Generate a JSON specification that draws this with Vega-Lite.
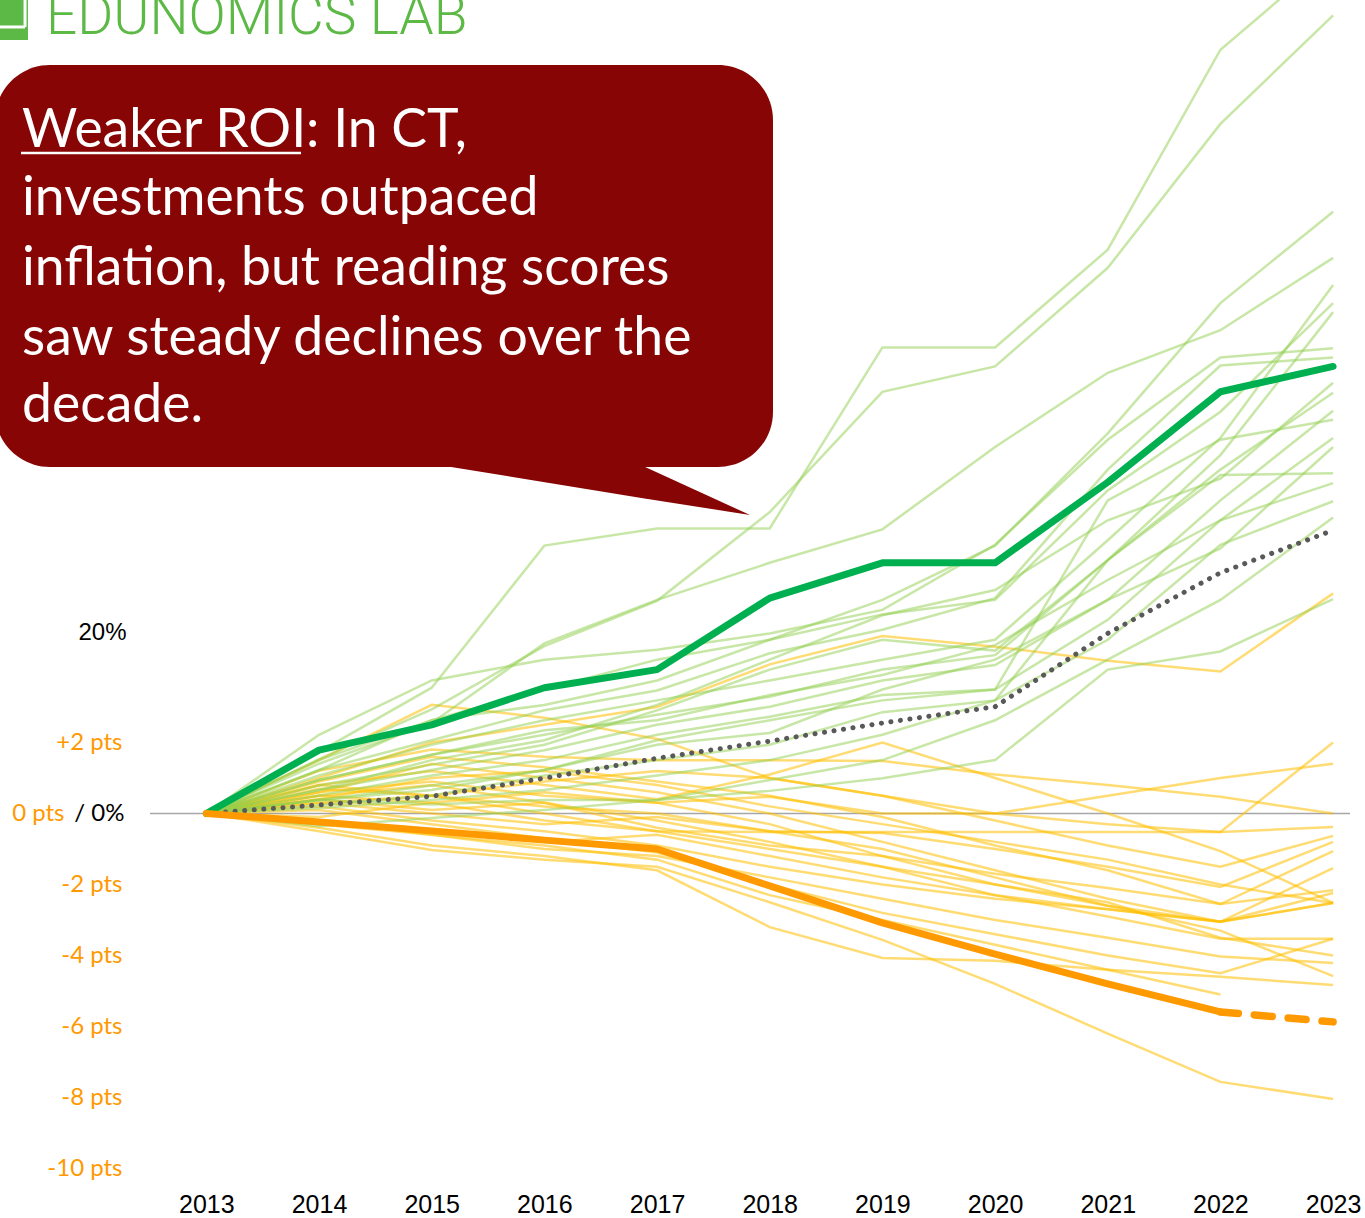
{
"$schema": "https://vega.github.io/schema/vega-lite/v6.json",
"width": 1200, "height": 1185,
"autosize": {"type": "none"},
"padding": {"left": 150, "top": 0, "right": 15, "bottom": 33},
"background": "white",
"config": {"view": {"stroke": null}, "axis": {"grid": false, "domain": false, "ticks": false}},
"datasets": {
"zero": [{"year": 2012.5, "year2": 2023.15, "v": 0}],
"spend": [
{"s":"A","year":2013,"v":0},{"s":"A","year":2014,"v":6.8},{"s":"A","year":2015,"v":13.9},{"s":"A","year":2016,"v":29.6},{"s":"A","year":2017,"v":31.5},{"s":"A","year":2018,"v":31.5},{"s":"A","year":2019,"v":51.5},{"s":"A","year":2020,"v":51.5},{"s":"A","year":2021,"v":62.3},{"s":"A","year":2022,"v":84.4},{"s":"A","year":2023,"v":95},
{"s":"B","year":2013,"v":0},{"s":"B","year":2014,"v":6.0},{"s":"B","year":2015,"v":11.5},{"s":"B","year":2016,"v":18.5},{"s":"B","year":2017,"v":23.5},{"s":"B","year":2018,"v":33.3},{"s":"B","year":2019,"v":46.6},{"s":"B","year":2020,"v":49.4},{"s":"B","year":2021,"v":60.3},{"s":"B","year":2022,"v":76.2},{"s":"B","year":2023,"v":88.2},
{"s":"C","year":2013,"v":0},{"s":"C","year":2014,"v":5.9},{"s":"C","year":2015,"v":10.3},{"s":"C","year":2016,"v":13.7},{"s":"C","year":2017,"v":17.0},{"s":"C","year":2018,"v":19.2},{"s":"C","year":2019,"v":23.6},{"s":"C","year":2020,"v":29.6},{"s":"C","year":2021,"v":42.0},{"s":"C","year":2022,"v":56.4},{"s":"C","year":2023,"v":66.5},
{"s":"D","year":2013,"v":0},{"s":"D","year":2014,"v":5.5},{"s":"D","year":2015,"v":10.0},{"s":"D","year":2016,"v":18.8},{"s":"D","year":2017,"v":23.6},{"s":"D","year":2018,"v":27.7},{"s":"D","year":2019,"v":31.4},{"s":"D","year":2020,"v":40.5},{"s":"D","year":2021,"v":48.7},{"s":"D","year":2022,"v":53.4},{"s":"D","year":2023,"v":61.4},
{"s":"E","year":2013,"v":0},{"s":"E","year":2014,"v":4.2},{"s":"E","year":2015,"v":7.6},{"s":"E","year":2016,"v":10.3},{"s":"E","year":2017,"v":12.5},{"s":"E","year":2018,"v":14.7},{"s":"E","year":2019,"v":17.0},{"s":"E","year":2020,"v":19.2},{"s":"E","year":2021,"v":30.2},{"s":"E","year":2022,"v":41.5},{"s":"E","year":2023,"v":58.4},
{"s":"F","year":2013,"v":0},{"s":"F","year":2014,"v":4.8},{"s":"F","year":2015,"v":10.3},{"s":"F","year":2016,"v":12.0},{"s":"F","year":2017,"v":14.7},{"s":"F","year":2018,"v":19.2},{"s":"F","year":2019,"v":22.0},{"s":"F","year":2020,"v":23.6},{"s":"F","year":2021,"v":35.7},{"s":"F","year":2022,"v":44.4},{"s":"F","year":2023,"v":56.4},
{"s":"G","year":2013,"v":0},{"s":"G","year":2014,"v":3.7},{"s":"G","year":2015,"v":6.5},{"s":"G","year":2016,"v":8.7},{"s":"G","year":2017,"v":10.9},{"s":"G","year":2018,"v":12.9},{"s":"G","year":2019,"v":15.9},{"s":"G","year":2020,"v":17.5},{"s":"G","year":2021,"v":28.0},{"s":"G","year":2022,"v":39.6},{"s":"G","year":2023,"v":55.4},
{"s":"H","year":2013,"v":0},{"s":"H","year":2014,"v":8.7},{"s":"H","year":2015,"v":14.7},{"s":"H","year":2016,"v":17.0},{"s":"H","year":2017,"v":18.1},{"s":"H","year":2018,"v":19.9},{"s":"H","year":2019,"v":22.5},{"s":"H","year":2020,"v":29.7},{"s":"H","year":2021,"v":41.3},{"s":"H","year":2022,"v":50.4},{"s":"H","year":2023,"v":51.4},
{"s":"I","year":2013,"v":0},{"s":"I","year":2014,"v":4.8},{"s":"I","year":2015,"v":8.1},{"s":"I","year":2016,"v":11.4},{"s":"I","year":2017,"v":13.6},{"s":"I","year":2018,"v":17.7},{"s":"I","year":2019,"v":20.3},{"s":"I","year":2020,"v":23.8},{"s":"I","year":2021,"v":38.0},{"s":"I","year":2022,"v":49.5},{"s":"I","year":2023,"v":50.4},
{"s":"J","year":2013,"v":0},{"s":"J","year":2014,"v":2.6},{"s":"J","year":2015,"v":5.9},{"s":"J","year":2016,"v":8.1},{"s":"J","year":2017,"v":12.0},{"s":"J","year":2018,"v":17.0},{"s":"J","year":2019,"v":21.9},{"s":"J","year":2020,"v":24.7},{"s":"J","year":2021,"v":32.4},{"s":"J","year":2022,"v":37.0},{"s":"J","year":2023,"v":47.6},
{"s":"K","year":2013,"v":0},{"s":"K","year":2014,"v":3.1},{"s":"K","year":2015,"v":5.4},{"s":"K","year":2016,"v":7.6},{"s":"K","year":2017,"v":11.4},{"s":"K","year":2018,"v":15.9},{"s":"K","year":2019,"v":19.2},{"s":"K","year":2020,"v":18.0},{"s":"K","year":2021,"v":28.0},{"s":"K","year":2022,"v":38.0},{"s":"K","year":2023,"v":46.5},
{"s":"L","year":2013,"v":0},{"s":"L","year":2014,"v":2.6},{"s":"L","year":2015,"v":4.8},{"s":"L","year":2016,"v":7.0},{"s":"L","year":2017,"v":9.8},{"s":"L","year":2018,"v":11.8},{"s":"L","year":2019,"v":14.7},{"s":"L","year":2020,"v":16.4},{"s":"L","year":2021,"v":23.6},{"s":"L","year":2022,"v":34.6},{"s":"L","year":2023,"v":44.5},
{"s":"M","year":2013,"v":0},{"s":"M","year":2014,"v":2.0},{"s":"M","year":2015,"v":4.2},{"s":"M","year":2016,"v":5.9},{"s":"M","year":2017,"v":8.7},{"s":"M","year":2018,"v":10.7},{"s":"M","year":2019,"v":13.1},{"s":"M","year":2020,"v":13.7},{"s":"M","year":2021,"v":34.6},{"s":"M","year":2022,"v":41.3},{"s":"M","year":2023,"v":43.5},
{"s":"N","year":2013,"v":0},{"s":"N","year":2014,"v":3.7},{"s":"N","year":2015,"v":6.5},{"s":"N","year":2016,"v":9.2},{"s":"N","year":2017,"v":10.3},{"s":"N","year":2018,"v":13.1},{"s":"N","year":2019,"v":15.3},{"s":"N","year":2020,"v":18.6},{"s":"N","year":2021,"v":25.8},{"s":"N","year":2022,"v":32.4},{"s":"N","year":2023,"v":41.5},
{"s":"O","year":2013,"v":0},{"s":"O","year":2014,"v":1.5},{"s":"O","year":2015,"v":2.6},{"s":"O","year":2016,"v":4.8},{"s":"O","year":2017,"v":7.6},{"s":"O","year":2018,"v":8.9},{"s":"O","year":2019,"v":13.7},{"s":"O","year":2020,"v":17.0},{"s":"O","year":2021,"v":23.6},{"s":"O","year":2022,"v":29.3},{"s":"O","year":2023,"v":40.5},
{"s":"P","year":2013,"v":0},{"s":"P","year":2014,"v":0.9},{"s":"P","year":2015,"v":2.0},{"s":"P","year":2016,"v":4.2},{"s":"P","year":2017,"v":5.9},{"s":"P","year":2018,"v":7.6},{"s":"P","year":2019,"v":11.2},{"s":"P","year":2020,"v":12.5},{"s":"P","year":2021,"v":28.0},{"s":"P","year":2022,"v":37.4},{"s":"P","year":2023,"v":37.6},
{"s":"Q","year":2013,"v":0},{"s":"Q","year":2014,"v":1.5},{"s":"Q","year":2015,"v":3.1},{"s":"Q","year":2016,"v":4.8},{"s":"Q","year":2017,"v":8.1},{"s":"Q","year":2018,"v":10.3},{"s":"Q","year":2019,"v":12.5},{"s":"Q","year":2020,"v":13.7},{"s":"Q","year":2021,"v":21.4},{"s":"Q","year":2022,"v":32.4},{"s":"Q","year":2023,"v":36.5},
{"s":"R","year":2013,"v":0},{"s":"R","year":2014,"v":0.6},{"s":"R","year":2015,"v":1.5},{"s":"R","year":2016,"v":2.6},{"s":"R","year":2017,"v":4.2},{"s":"R","year":2018,"v":5.9},{"s":"R","year":2019,"v":8.7},{"s":"R","year":2020,"v":12.5},{"s":"R","year":2021,"v":19.2},{"s":"R","year":2022,"v":29.7},{"s":"R","year":2023,"v":34.5},
{"s":"S","year":2013,"v":0},{"s":"S","year":2014,"v":-1.4},{"s":"S","year":2015,"v":-0.5},{"s":"S","year":2016,"v":0.4},{"s":"S","year":2017,"v":1.5},{"s":"S","year":2018,"v":3.7},{"s":"S","year":2019,"v":5.9},{"s":"S","year":2020,"v":10.3},{"s":"S","year":2021,"v":17.0},{"s":"S","year":2022,"v":23.6},{"s":"S","year":2023,"v":32.7},
{"s":"T","year":2013,"v":0},{"s":"T","year":2014,"v":1.5},{"s":"T","year":2015,"v":1.0},{"s":"T","year":2016,"v":1.5},{"s":"T","year":2017,"v":1.5},{"s":"T","year":2018,"v":2.5},{"s":"T","year":2019,"v":3.9},{"s":"T","year":2020,"v":5.9},{"s":"T","year":2021,"v":15.9},{"s":"T","year":2022,"v":17.9},{"s":"T","year":2023,"v":23.7}
],
"infl": [
{"year":2013,"v":0},{"year":2014,"v":0.95},{"year":2015,"v":1.9},{"year":2016,"v":3.9},{"year":2017,"v":6.1},{"year":2018,"v":8.0},{"year":2019,"v":10.0},{"year":2020,"v":11.8},{"year":2021,"v":19.9},{"year":2022,"v":26.6},{"year":2023,"v":31.3}
],
"ctspend": [
{"year":2013,"v":0},{"year":2014,"v":7.0},{"year":2015,"v":9.8},{"year":2016,"v":13.9},{"year":2017,"v":15.9},{"year":2018,"v":23.8},{"year":2019,"v":27.7},{"year":2020,"v":27.7},{"year":2021,"v":36.6},{"year":2022,"v":46.6},{"year":2023,"v":49.4}
],
"ctread": [
{"year":2013,"v":0},{"year":2014,"v":-0.24},{"year":2015,"v":-0.49},{"year":2016,"v":-0.75},{"year":2017,"v":-1.0},{"year":2018,"v":-2.04},{"year":2019,"v":-3.08},{"year":2020,"v":-3.96},{"year":2021,"v":-4.8},{"year":2022,"v":-5.59}
],
"ctread2": [
{"year":2022,"v":-5.59},{"year":2023,"v":-5.87}
],
"read": [
{"s":"Y01","year":2013,"v":0},{"s":"Y01","year":2014,"v":1.0},{"s":"Y01","year":2015,"v":2.0},{"s":"Y01","year":2016,"v":2.5},{"s":"Y01","year":2017,"v":3.0},{"s":"Y01","year":2018,"v":4.2},{"s":"Y01","year":2019,"v":5.0},{"s":"Y01","year":2020,"v":4.7},{"s":"Y01","year":2021,"v":4.3},{"s":"Y01","year":2022,"v":4.0},{"s":"Y01","year":2023,"v":6.2},
{"s":"Y02","year":2013,"v":0},{"s":"Y02","year":2014,"v":0.8},{"s":"Y02","year":2015,"v":1.2},{"s":"Y02","year":2016,"v":0.8},{"s":"Y02","year":2017,"v":0.4},{"s":"Y02","year":2018,"v":1.1},{"s":"Y02","year":2019,"v":2.0},{"s":"Y02","year":2020,"v":1.0},{"s":"Y02","year":2021,"v":0.0},{"s":"Y02","year":2022,"v":-1.06},{"s":"Y02","year":2023,"v":-2.52},
{"s":"Y03","year":2013,"v":0},{"s":"Y03","year":2014,"v":0.5},{"s":"Y03","year":2015,"v":0.3},{"s":"Y03","year":2016,"v":-0.2},{"s":"Y03","year":2017,"v":-0.5},{"s":"Y03","year":2018,"v":-0.52},{"s":"Y03","year":2019,"v":-0.52},{"s":"Y03","year":2020,"v":-0.52},{"s":"Y03","year":2021,"v":-0.52},{"s":"Y03","year":2022,"v":-0.52},{"s":"Y03","year":2023,"v":2.0},
{"s":"Y04","year":2013,"v":0},{"s":"Y04","year":2014,"v":0.6},{"s":"Y04","year":2015,"v":0.9},{"s":"Y04","year":2016,"v":0.5},{"s":"Y04","year":2017,"v":0.3},{"s":"Y04","year":2018,"v":0.47},{"s":"Y04","year":2019,"v":0.0},{"s":"Y04","year":2020,"v":0.0},{"s":"Y04","year":2021,"v":0.5},{"s":"Y04","year":2022,"v":1.0},{"s":"Y04","year":2023,"v":1.4},
{"s":"Y05","year":2013,"v":0},{"s":"Y05","year":2014,"v":1.2},{"s":"Y05","year":2015,"v":1.8},{"s":"Y05","year":2016,"v":1.6},{"s":"Y05","year":2017,"v":1.5},{"s":"Y05","year":2018,"v":1.5},{"s":"Y05","year":2019,"v":1.48},{"s":"Y05","year":2020,"v":1.1},{"s":"Y05","year":2021,"v":0.8},{"s":"Y05","year":2022,"v":0.47},{"s":"Y05","year":2023,"v":0.0},
{"s":"Y06","year":2013,"v":0},{"s":"Y06","year":2014,"v":1.5},{"s":"Y06","year":2015,"v":3.06},{"s":"Y06","year":2016,"v":2.7},{"s":"Y06","year":2017,"v":2.1},{"s":"Y06","year":2018,"v":1.0},{"s":"Y06","year":2019,"v":0.5},{"s":"Y06","year":2020,"v":0.0},{"s":"Y06","year":2021,"v":-0.3},{"s":"Y06","year":2022,"v":-0.52},{"s":"Y06","year":2023,"v":-0.38},
{"s":"Y07","year":2013,"v":0},{"s":"Y07","year":2014,"v":0.3},{"s":"Y07","year":2015,"v":0.5},{"s":"Y07","year":2016,"v":0.2},{"s":"Y07","year":2017,"v":0.0},{"s":"Y07","year":2018,"v":-0.5},{"s":"Y07","year":2019,"v":-0.55},{"s":"Y07","year":2020,"v":-1.0},{"s":"Y07","year":2021,"v":-1.5},{"s":"Y07","year":2022,"v":-2.07},{"s":"Y07","year":2023,"v":-0.8},
{"s":"Y08","year":2013,"v":0},{"s":"Y08","year":2014,"v":0.4},{"s":"Y08","year":2015,"v":0.1},{"s":"Y08","year":2016,"v":0.3},{"s":"Y08","year":2017,"v":-0.4},{"s":"Y08","year":2018,"v":-0.9},{"s":"Y08","year":2019,"v":-1.2},{"s":"Y08","year":2020,"v":-1.7},{"s":"Y08","year":2021,"v":-2.1},{"s":"Y08","year":2022,"v":-2.55},{"s":"Y08","year":2023,"v":-1.06},
{"s":"Y09","year":2013,"v":0},{"s":"Y09","year":2014,"v":-0.2},{"s":"Y09","year":2015,"v":-0.5},{"s":"Y09","year":2016,"v":-0.8},{"s":"Y09","year":2017,"v":-0.6},{"s":"Y09","year":2018,"v":-1.2},{"s":"Y09","year":2019,"v":-1.8},{"s":"Y09","year":2020,"v":-2.3},{"s":"Y09","year":2021,"v":-2.7},{"s":"Y09","year":2022,"v":-3.05},{"s":"Y09","year":2023,"v":-2.52},
{"s":"Y10","year":2013,"v":0},{"s":"Y10","year":2014,"v":0.2},{"s":"Y10","year":2015,"v":-0.2},{"s":"Y10","year":2016,"v":-0.5},{"s":"Y10","year":2017,"v":-0.9},{"s":"Y10","year":2018,"v":-1.5},{"s":"Y10","year":2019,"v":-2.0},{"s":"Y10","year":2020,"v":-2.4},{"s":"Y10","year":2021,"v":-2.7},{"s":"Y10","year":2022,"v":-3.05},{"s":"Y10","year":2023,"v":-1.54},
{"s":"Y11","year":2013,"v":0},{"s":"Y11","year":2014,"v":0.5},{"s":"Y11","year":2015,"v":0.8},{"s":"Y11","year":2016,"v":0.3},{"s":"Y11","year":2017,"v":-0.2},{"s":"Y11","year":2018,"v":-0.8},{"s":"Y11","year":2019,"v":-1.5},{"s":"Y11","year":2020,"v":-2.3},{"s":"Y11","year":2021,"v":-2.9},{"s":"Y11","year":2022,"v":-3.53},{"s":"Y11","year":2023,"v":-3.53},
{"s":"Y12","year":2013,"v":0},{"s":"Y12","year":2014,"v":-0.3},{"s":"Y12","year":2015,"v":-0.6},{"s":"Y12","year":2016,"v":-1.0},{"s":"Y12","year":2017,"v":-1.2},{"s":"Y12","year":2018,"v":-1.8},{"s":"Y12","year":2019,"v":-2.4},{"s":"Y12","year":2020,"v":-3.0},{"s":"Y12","year":2021,"v":-3.5},{"s":"Y12","year":2022,"v":-4.03},{"s":"Y12","year":2023,"v":-4.21},
{"s":"Y13","year":2013,"v":0},{"s":"Y13","year":2014,"v":0.1},{"s":"Y13","year":2015,"v":-0.3},{"s":"Y13","year":2016,"v":-0.7},{"s":"Y13","year":2017,"v":-1.1},{"s":"Y13","year":2018,"v":-2.0},{"s":"Y13","year":2019,"v":-2.8},{"s":"Y13","year":2020,"v":-3.4},{"s":"Y13","year":2021,"v":-4.0},{"s":"Y13","year":2022,"v":-4.5},{"s":"Y13","year":2023,"v":-3.53},
{"s":"Y14","year":2013,"v":0},{"s":"Y14","year":2014,"v":-0.2},{"s":"Y14","year":2015,"v":-0.6},{"s":"Y14","year":2016,"v":-0.9},{"s":"Y14","year":2017,"v":-1.3},{"s":"Y14","year":2018,"v":-2.3},{"s":"Y14","year":2019,"v":-3.0},{"s":"Y14","year":2020,"v":-3.7},{"s":"Y14","year":2021,"v":-4.4},{"s":"Y14","year":2022,"v":-5.1},
{"s":"Y15","year":2013,"v":0},{"s":"Y15","year":2014,"v":-0.4},{"s":"Y15","year":2015,"v":-0.9},{"s":"Y15","year":2016,"v":-1.2},{"s":"Y15","year":2017,"v":-1.6},{"s":"Y15","year":2018,"v":-3.2},{"s":"Y15","year":2019,"v":-4.07},{"s":"Y15","year":2020,"v":-4.15},{"s":"Y15","year":2021,"v":-4.4},{"s":"Y15","year":2022,"v":-4.6},{"s":"Y15","year":2023,"v":-4.83},
{"s":"Y16","year":2013,"v":0},{"s":"Y16","year":2014,"v":0.6},{"s":"Y16","year":2015,"v":1.4},{"s":"Y16","year":2016,"v":1.0},{"s":"Y16","year":2017,"v":0.6},{"s":"Y16","year":2018,"v":0.0},{"s":"Y16","year":2019,"v":-0.8},{"s":"Y16","year":2020,"v":-1.6},{"s":"Y16","year":2021,"v":-2.4},{"s":"Y16","year":2022,"v":-3.05},{"s":"Y16","year":2023,"v":-2.24},
{"s":"Y17","year":2013,"v":0},{"s":"Y17","year":2014,"v":0.9},{"s":"Y17","year":2015,"v":1.6},{"s":"Y17","year":2016,"v":1.3},{"s":"Y17","year":2017,"v":0.9},{"s":"Y17","year":2018,"v":0.5},{"s":"Y17","year":2019,"v":-0.1},{"s":"Y17","year":2020,"v":-0.9},{"s":"Y17","year":2021,"v":-1.6},{"s":"Y17","year":2022,"v":-2.55},{"s":"Y17","year":2023,"v":-2.16},
{"s":"Y18","year":2013,"v":0},{"s":"Y18","year":2014,"v":0.3},{"s":"Y18","year":2015,"v":0.0},{"s":"Y18","year":2016,"v":-0.3},{"s":"Y18","year":2017,"v":-0.1},{"s":"Y18","year":2018,"v":-0.5},{"s":"Y18","year":2019,"v":-1.0},{"s":"Y18","year":2020,"v":-1.8},{"s":"Y18","year":2021,"v":-2.6},{"s":"Y18","year":2022,"v":-3.3},{"s":"Y18","year":2023,"v":-4.58},
{"s":"Y19","year":2013,"v":0},{"s":"Y19","year":2014,"v":0.7},{"s":"Y19","year":2015,"v":0.5},{"s":"Y19","year":2016,"v":0.9},{"s":"Y19","year":2017,"v":1.2},{"s":"Y19","year":2018,"v":1.0},{"s":"Y19","year":2019,"v":0.5},{"s":"Y19","year":2020,"v":-0.2},{"s":"Y19","year":2021,"v":-0.9},{"s":"Y19","year":2022,"v":-1.5},{"s":"Y19","year":2023,"v":-0.63},
{"s":"Y20","year":2013,"v":0},{"s":"Y20","year":2014,"v":0.4},{"s":"Y20","year":2015,"v":1.0},{"s":"Y20","year":2016,"v":1.2},{"s":"Y20","year":2017,"v":0.8},{"s":"Y20","year":2018,"v":0.2},{"s":"Y20","year":2019,"v":-0.3},{"s":"Y20","year":2020,"v":-0.8},{"s":"Y20","year":2021,"v":-1.3},{"s":"Y20","year":2022,"v":-2.0},{"s":"Y20","year":2023,"v":-2.52},
{"s":"Y21","year":2013,"v":0},{"s":"Y21","year":2014,"v":-0.1},{"s":"Y21","year":2015,"v":0.3},{"s":"Y21","year":2016,"v":0.6},{"s":"Y21","year":2017,"v":0.3},{"s":"Y21","year":2018,"v":-0.3},{"s":"Y21","year":2019,"v":-1.2},{"s":"Y21","year":2020,"v":-2.0},{"s":"Y21","year":2021,"v":-2.6},{"s":"Y21","year":2022,"v":-3.05},{"s":"Y21","year":2023,"v":-2.52},
{"s":"Y22","year":2013,"v":0},{"s":"Y22","year":2014,"v":-0.5},{"s":"Y22","year":2015,"v":-1.03},{"s":"Y22","year":2016,"v":-1.3},{"s":"Y22","year":2017,"v":-1.5},{"s":"Y22","year":2018,"v":-2.5},{"s":"Y22","year":2019,"v":-3.56},{"s":"Y22","year":2020,"v":-4.8},{"s":"Y22","year":2021,"v":-6.2},{"s":"Y22","year":2022,"v":-7.56},{"s":"Y22","year":2023,"v":-8.04},
{"s":"Y23","year":2013,"v":0},{"s":"Y23","year":2014,"v":0.8},{"s":"Y23","year":2015,"v":0.5},{"s":"Y23","year":2016,"v":0.0},{"s":"Y23","year":2017,"v":-0.5},{"s":"Y23","year":2018,"v":-1.0},{"s":"Y23","year":2019,"v":-1.5},{"s":"Y23","year":2020,"v":-2.0},{"s":"Y23","year":2021,"v":-2.5},{"s":"Y23","year":2022,"v":-3.5},{"s":"Y23","year":2023,"v":-4.0}
],
"bubble": [{"year": 2011.124, "year2": 2018.029, "v": 21.085, "v2": 9.761}],
"tail": [
{"year": 2015.118, "v": 9.789, "v2": 9.789},
{"year": 2016.875, "v": 9.789, "v2": 8.882},
{"year": 2017.825, "v": 8.408, "v2": 8.408}
],
"note": [
{"year": 2011.364, "v": 18.774, "txt": "Weaker ROI: In CT,"},
{"year": 2011.364, "v": 16.86, "txt": "investments outpaced"},
{"year": 2011.364, "v": 14.888, "txt": "inflation, but reading scores"},
{"year": 2011.364, "v": 12.916, "txt": "saw steady declines over the"},
{"year": 2011.364, "v": 11.019, "txt": "decade."}
],
"underline": [{"year": 2011.355, "year2": 2013.84, "v": 18.606, "v2": 18.606}],
"logobox": [{"year": 2011.124, "year2": 2011.417, "v": 23.197, "v2": 21.789}],
"logoL": [
{"year": 2011.391, "year2": 2011.391, "v": 23.197, "v2": 22.155},
{"year": 2011.124, "year2": 2011.391, "v": 22.155, "v2": 22.155}
],
"logotext": [{"year": 2011.577, "v": 21.958, "txt": "EDUNOMICS LAB"}]
},
"encoding": {
"x": {"field": "year", "type": "quantitative", "scale": {"domain": [2012.5, 2023.15], "nice": false, "zero": false},
"axis": {"title": null, "values": [2013,2014,2015,2016,2017,2018,2019,2020,2021,2022,2023], "format": "d", "labelFont": "Liberation Sans", "labelFontSize": 25, "labelColor": "#000000", "labelPadding": 7, "labelFlush": false, "labelOverlap": false}}
},
"layer": [
{
"encoding": {"y": {"field": "v", "type": "quantitative", "scale": {"domain": [-10.465, 22.915], "nice": false, "zero": false},
"axis": {"orient": "left", "title": null, "values": [-10,-8,-6,-4,-2,0,2], "labelExpr": "datum.value > 0 ? '+' + datum.value + ' pts' : datum.value + ' pts'", "labelFont": "Lato", "labelFontSize": 24, "labelColor": "#FF9900", "labelAlign": "right", "labelBaseline": "middle", "labelPadding": {"condition": {"test": "datum.value == 0", "value": 86}, "value": 28}}}},
"layer": [
{"data": {"name": "zero"}, "mark": {"type": "rule", "color": "#a6a6a6", "strokeWidth": 1.5}, "encoding": {"x2": {"field": "year2"}}},
{"data": {"name": "read"}, "mark": {"type": "line", "color": "#FFC000", "strokeWidth": 2.5, "strokeOpacity": 0.55, "clip": true}, "encoding": {"detail": {"field": "s"}}}
]
},
{
"encoding": {"y": {"field": "v", "type": "quantitative", "scale": {"domain": [-41.05, 89.89], "nice": false, "zero": false},
"axis": {"orient": "left", "title": null, "values": [0, 20], "labelExpr": "datum.value == 0 ? '/  0%' : datum.value + '%'", "labelColor": "#000000", "labelFont": {"condition": {"test": "datum.value == 20", "value": "Liberation Sans"}, "value": "Lato"}, "labelFontSize": 24, "labelAlign": "right", "labelBaseline": "middle", "labelPadding": {"condition": {"test": "datum.value == 20", "value": 24}, "value": 26}}}},
"layer": [
{"data": {"name": "spend"}, "mark": {"type": "line", "color": "#92D050", "strokeWidth": 2.5, "strokeOpacity": 0.5, "clip": true}, "encoding": {"detail": {"field": "s"}}},
{"data": {"name": "infl"}, "mark": {"type": "line", "color": "#595959", "strokeWidth": 5, "strokeDash": [0.1, 9.5], "strokeCap": "round"}},
{"data": {"name": "ctspend"}, "mark": {"type": "line", "color": "#00B050", "strokeWidth": 7, "strokeJoin": "round", "strokeCap": "round"}}
]
},
{
"encoding": {"y": {"field": "v", "type": "quantitative", "scale": {"domain": [-10.465, 22.915], "nice": false, "zero": false}, "axis": null}},
"layer": [
{"data": {"name": "ctread"}, "mark": {"type": "line", "color": "#FF9900", "strokeWidth": 7, "strokeJoin": "round", "strokeCap": "round"}},
{"data": {"name": "ctread2"}, "mark": {"type": "line", "color": "#FF9900", "strokeWidth": 7.5, "strokeDash": [18, 16], "strokeCap": "round"}},
{"data": {"name": "bubble"}, "mark": {"type": "rect", "color": "#870505", "cornerRadius": 55}, "encoding": {"x2": {"field": "year2"}, "y2": {"field": "v2"}}},
{"data": {"name": "tail"}, "mark": {"type": "area", "color": "#870505"}, "encoding": {"y2": {"field": "v2"}}},
{"data": {"name": "note"}, "mark": {"type": "text", "align": "left", "baseline": "alphabetic", "font": "Lato", "fontSize": 53.5, "color": "#ffffff"}, "encoding": {"text": {"field": "txt"}}},
{"data": {"name": "underline"}, "mark": {"type": "rule", "color": "#ffffff", "strokeWidth": 2.5}, "encoding": {"x2": {"field": "year2"}, "y2": {"field": "v2"}}},
{"data": {"name": "logobox"}, "mark": {"type": "rect", "color": "#5cb946"}, "encoding": {"x2": {"field": "year2"}, "y2": {"field": "v2"}}},
{"data": {"name": "logoL"}, "mark": {"type": "rule", "color": "#ffffff", "strokeWidth": 3}, "encoding": {"x2": {"field": "year2"}, "y2": {"field": "v2"}}},
{"data": {"name": "logotext"}, "mark": {"type": "text", "align": "left", "baseline": "alphabetic", "font": "Roboto", "fontWeight": 300, "fontSize": 55, "color": "#5cb946"}, "encoding": {"text": {"field": "txt"}}}
]
}
],
"resolve": {"scale": {"y": "independent"}}
}
